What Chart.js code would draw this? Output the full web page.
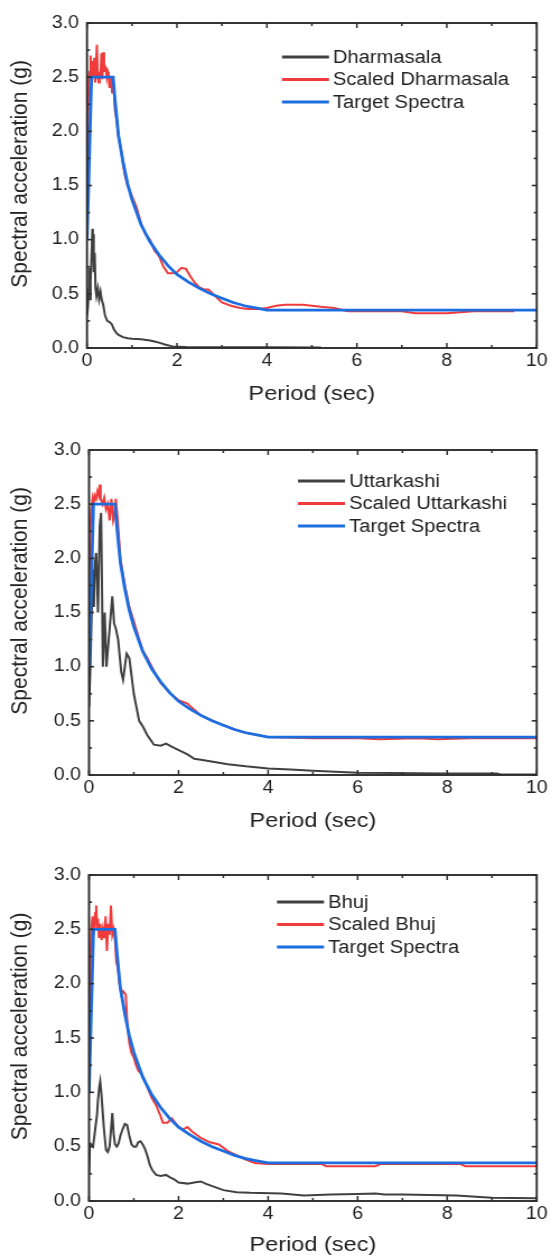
<!DOCTYPE html>
<html><head><meta charset="utf-8">
<script src="https://cdn.jsdelivr.net/npm/chart.js@4.4.1/dist/chart.umd.min.js"></script>
<style>
html,body{margin:0;padding:0;background:#fff;width:551px;height:1258px;overflow:hidden;position:relative;}
canvas{position:absolute;left:0;display:block;width:551px;}
</style></head><body>
<canvas id="c1" width="492" height="420" style="top:0px;width:551px;height:420px"></canvas>
<canvas id="c2" width="492" height="420" style="top:420px;width:551px;height:420px"></canvas>
<canvas id="c3" width="492" height="418" style="top:840px;width:551px;height:418px"></canvas>
<script>
// ---------- DATA (period in sec, spectral acceleration in g) ----------
const yTickValues = [0, 0.5, 1.0, 1.5, 2.0, 2.5, 3.0];
const xTickValues = [0, 2, 4, 6, 8, 10];

const targetSpectra = [[0,1.0],[0.1,2.5],[0.58,2.5],[0.62,2.3],[0.7,1.96],[0.8,1.72],[0.9,1.52],[1.0,1.37],[1.2,1.14],[1.4,0.98],[1.6,0.86],[1.8,0.76],[2.0,0.68],[2.25,0.61],[2.5,0.55],[2.75,0.5],[3.0,0.46],[3.25,0.42],[3.5,0.39],[3.75,0.37],[4.0,0.35],[10,0.35]];

const dharmasala = [[0,0.30],[0.02,0.38],[0.04,0.55],[0.05,0.74],[0.06,0.45],[0.08,0.62],[0.1,0.85],[0.12,1.10],[0.13,0.95],[0.14,1.05],[0.15,0.70],[0.17,0.88],[0.19,0.55],[0.21,0.48],[0.24,0.55],[0.27,0.45],[0.3,0.52],[0.33,0.44],[0.36,0.40],[0.4,0.30],[0.45,0.25],[0.5,0.24],[0.55,0.22],[0.6,0.17],[0.65,0.14],[0.7,0.12],[0.8,0.10],[0.9,0.09],[1.0,0.085],[1.2,0.08],[1.4,0.07],[1.5,0.06],[1.6,0.05],[1.75,0.03],[1.9,0.015],[2.2,0.01],[3.0,0.008],[4.0,0.006],[5.2,0.005]];
const scaledDharmasala = [[0,1.0],[0.02,2.05],[0.04,2.5],[0.06,2.55],[0.08,2.7],[0.1,2.45],[0.12,2.65],[0.14,2.5],[0.16,2.68],[0.18,2.45],[0.2,2.6],[0.22,2.8],[0.24,2.5],[0.26,2.45],[0.28,2.55],[0.3,2.5],[0.32,2.72],[0.34,2.48],[0.36,2.73],[0.38,2.55],[0.4,2.6],[0.42,2.58],[0.44,2.5],[0.46,2.55],[0.48,2.52],[0.5,2.4],[0.53,2.5],[0.56,2.35],[0.59,2.45],[0.62,2.2],[0.66,2.1],[0.7,1.95],[0.75,1.85],[0.8,1.7],[0.85,1.58],[0.9,1.5],[1.0,1.40],[1.1,1.30],[1.2,1.15],[1.3,1.05],[1.4,1.0],[1.5,0.9],[1.6,0.85],[1.7,0.75],[1.8,0.69],[1.9,0.69],[2.0,0.70],[2.1,0.74],[2.2,0.73],[2.3,0.66],[2.4,0.60],[2.5,0.56],[2.6,0.54],[2.7,0.54],[2.8,0.50],[3.0,0.42],[3.2,0.39],[3.4,0.37],[3.6,0.36],[3.8,0.36],[4.0,0.37],[4.2,0.39],[4.4,0.40],[4.8,0.40],[5.0,0.39],[5.2,0.38],[5.5,0.37],[5.8,0.34],[6.5,0.34],[7.0,0.34],[7.3,0.32],[8.0,0.32],[8.3,0.33],[8.6,0.34],[9.0,0.34],[9.5,0.34]];

const uttarkashi = [[0,0.63],[0.03,1.0],[0.06,1.5],[0.09,1.9],[0.11,1.55],[0.13,1.95],[0.16,2.05],[0.2,1.5],[0.24,2.3],[0.27,2.42],[0.31,1.0],[0.35,1.5],[0.39,1.0],[0.43,1.2],[0.47,1.4],[0.52,1.65],[0.56,1.4],[0.6,1.35],[0.65,1.25],[0.72,0.95],[0.76,0.88],[0.84,1.12],[0.9,1.08],[1.0,0.75],[1.12,0.5],[1.2,0.45],[1.3,0.37],[1.45,0.28],[1.6,0.27],[1.72,0.29],[1.9,0.25],[2.05,0.22],[2.2,0.19],[2.35,0.15],[2.5,0.14],[2.8,0.12],[3.1,0.10],[3.5,0.08],[4.0,0.06],[4.5,0.05],[5.0,0.04],[5.5,0.03],[6.0,0.02],[8.0,0.015],[9.1,0.015],[9.2,0.005],[10,0.005]];
const scaledUttarkashi = [[0,1.5],[0.02,2.15],[0.05,2.45],[0.08,2.55],[0.1,2.5],[0.13,2.58],[0.16,2.55],[0.19,2.62],[0.22,2.58],[0.24,2.68],[0.26,2.55],[0.3,2.5],[0.34,2.56],[0.38,2.45],[0.42,2.5],[0.46,2.35],[0.5,2.55],[0.54,2.35],[0.57,2.4],[0.6,2.55],[0.65,2.3],[0.7,2.0],[0.8,1.75],[0.9,1.55],[1.0,1.42],[1.1,1.28],[1.2,1.15],[1.3,1.08],[1.4,1.0],[1.5,0.92],[1.6,0.85],[1.8,0.76],[2.0,0.69],[2.2,0.66],[2.3,0.62],[2.5,0.55],[2.75,0.50],[3.0,0.46],[3.25,0.42],[3.5,0.39],[3.75,0.37],[4.0,0.35],[5.0,0.34],[6.0,0.34],[6.5,0.33],[7.3,0.34],[7.8,0.33],[8.5,0.34],[9.5,0.34],[10,0.34]];

const bhuj = [[0,0.26],[0.02,0.53],[0.05,0.52],[0.09,0.50],[0.12,0.60],[0.15,0.70],[0.18,0.80],[0.2,0.93],[0.23,1.05],[0.25,1.10],[0.27,1.02],[0.3,0.85],[0.33,0.68],[0.36,0.55],[0.38,0.47],[0.42,0.45],[0.46,0.50],[0.49,0.65],[0.52,0.81],[0.55,0.62],[0.58,0.52],[0.62,0.50],[0.66,0.53],[0.7,0.60],[0.75,0.66],[0.8,0.71],[0.85,0.70],[0.9,0.60],[0.95,0.52],[1.0,0.50],[1.05,0.50],[1.1,0.54],[1.15,0.55],[1.2,0.52],[1.25,0.48],[1.3,0.42],[1.36,0.33],[1.42,0.28],[1.5,0.24],[1.6,0.23],[1.72,0.24],[1.8,0.22],[1.9,0.20],[2.0,0.17],[2.2,0.16],[2.35,0.17],[2.5,0.18],[2.6,0.16],[2.8,0.13],[3.0,0.10],[3.3,0.08],[3.6,0.075],[4.3,0.07],[4.8,0.05],[5.4,0.06],[6.0,0.065],[6.4,0.07],[6.6,0.06],[7.0,0.06],[8.2,0.05],[9.0,0.03],[10,0.025]];
const scaledBhuj = [[0,1.48],[0.02,2.05],[0.05,2.5],[0.08,2.62],[0.11,2.45],[0.14,2.65],[0.16,2.72],[0.18,2.5],[0.2,2.6],[0.22,2.42],[0.25,2.55],[0.28,2.4],[0.31,2.5],[0.34,2.42],[0.37,2.62],[0.4,2.3],[0.43,2.55],[0.46,2.45],[0.49,2.72],[0.52,2.45],[0.55,2.5],[0.58,2.4],[0.61,2.2],[0.64,2.15],[0.68,2.0],[0.72,1.9],[0.76,1.93],[0.82,1.9],[0.86,1.6],[0.9,1.45],[0.95,1.36],[1.0,1.32],[1.05,1.25],[1.1,1.2],[1.15,1.18],[1.2,1.15],[1.25,1.1],[1.3,1.05],[1.4,0.95],[1.5,0.88],[1.6,0.78],[1.65,0.72],[1.75,0.72],[1.85,0.76],[2.0,0.68],[2.1,0.66],[2.2,0.68],[2.3,0.64],[2.5,0.58],[2.7,0.54],[2.9,0.52],[3.1,0.46],[3.3,0.42],[3.5,0.38],[3.7,0.35],[4.0,0.34],[5.2,0.34],[5.3,0.32],[6.4,0.32],[6.5,0.34],[8.3,0.34],[8.4,0.32],[10,0.32]];

// ---------- STYLE ----------
const FONT = "'Liberation Sans', Arial, sans-serif";
const TEXT = '#222222';
const COL_REC = '#404040', COL_SCALED = '#ef3b3b', COL_TARGET = '#1c6ee0';
const SX = 551 / 492; // canvas is drawn 492 wide and shown 551 wide
Chart.defaults.font.family = FONT;
Chart.defaults.color = TEXT;

const toXY = arr => arr.map(p => ({x: p[0], y: p[1]}));

const frameTicks = {
  id: 'frameTicks',
  afterDatasetsDraw(chart, args, o) {
    const {ctx, chartArea: a, scales: {x, y}} = chart;
    ctx.save();
    ctx.strokeStyle = '#2d2d2d';
    ctx.lineWidth = 1.5;
    const seg = (x0, y0, x1, y1) => { ctx.beginPath(); ctx.moveTo(x0, y0); ctx.lineTo(x1, y1); ctx.stroke(); };
    for (let i = 0; i <= Math.round((x.max - x.min) / o.xMinor); i++) {
      const v = x.min + i * o.xMinor;
      const px = x.getPixelForValue(v);
      const isMajor = xTickValues.some(t => Math.abs(t - v) < 1e-6);
      const len = isMajor ? o.major : o.minor;
      seg(px, a.bottom, px, a.bottom - len);
      seg(px, a.top, px, a.top + len);
    }
    ctx.lineWidth = 1.6;
    for (let i = 0; i <= Math.round((y.max - y.min) / o.yMinor); i++) {
      const v = y.min + i * o.yMinor;
      const py = y.getPixelForValue(v);
      const isMajor = yTickValues.some(t => Math.abs(t - v) < 1e-6);
      const len = (isMajor ? o.major : o.minor) / SX;
      seg(a.left, py, a.left + len, py);
      seg(a.right, py, a.right - len, py);
    }
    ctx.lineWidth = 1.9;
    ctx.strokeRect(a.left, a.top, a.right - a.left, a.bottom - a.top);
    ctx.restore();
  }
};

const insideLegend = {
  id: 'insideLegend',
  afterDraw(chart, args, o) {
    const {ctx, chartArea: a} = chart;
    ctx.save();
    ctx.font = o.font;
    ctx.textBaseline = 'middle';
    ctx.textAlign = 'left';
    chart.data.datasets.forEach((ds, i) => {
      const yy = a.top + o.top + i * o.rowHeight;
      const x0 = a.left + o.left;
      ctx.strokeStyle = ds.borderColor;
      ctx.lineWidth = o.lineWidth;
      ctx.beginPath(); ctx.moveTo(x0, yy); ctx.lineTo(x0 + o.lineLength, yy); ctx.stroke();
      ctx.fillStyle = TEXT;
      ctx.fillText(ds.label, x0 + o.lineLength + o.gap, yy + 1);
    });
    ctx.restore();
  }
};

function makeChart(id, name, record, scaled, L) {
  return new Chart(document.getElementById(id), {
    type: 'line',
    data: {
      datasets: [
        {label: name, data: toXY(record), borderColor: COL_REC, borderWidth: 2, order: 1},
        {label: 'Scaled ' + name, data: toXY(scaled), borderColor: COL_SCALED, borderWidth: 2, order: 2},
        {label: 'Target Spectra', data: toXY(targetSpectra), borderColor: COL_TARGET, borderWidth: 2.8, order: 0}
      ]
    },
    options: {
      responsive: false,
      animation: false,
      devicePixelRatio: 1,
      parsing: false,
      elements: {point: {radius: 0}, line: {tension: 0, borderJoinStyle: 'miter'}},
      layout: {padding: {top: L.top, right: L.right / SX, left: 0, bottom: 0}},
      plugins: {
        legend: {display: false},
        tooltip: {enabled: false},
        frameTicks: {xMinor: 1, yMinor: 0.25, major: 5, minor: 3},
        insideLegend: {left: L.legLeft / SX, top: L.legTop, rowHeight: 22.5, lineLength: 47 / SX, gap: 4 / SX, lineWidth: 3, font: "18px " + FONT}
      },
      scales: {
        x: {
          type: 'linear', min: 0, max: 10,
          afterFit: s => { s.height = L.xAxisH; },
          afterBuildTicks: s => { s.ticks = xTickValues.map(v => ({value: v})); },
          grid: {display: false, drawTicks: false},
          border: {display: false},
          ticks: {padding: 3, color: TEXT, font: {size: 17.5}, maxRotation: 0, callback: v => String(v)},
          title: {display: true, text: 'Period (sec)', color: TEXT, font: {size: 21}, padding: {top: 0, bottom: L.xTitlePad}}
        },
        y: {
          type: 'linear', min: 0, max: 3,
          afterFit: s => { s.width = L.yAxisW / SX; },
          afterBuildTicks: s => { s.ticks = yTickValues.map(v => ({value: v})); },
          grid: {display: false, drawTicks: false},
          border: {display: false},
          ticks: {padding: 8 / SX, color: TEXT, font: {size: 17.5}, callback: v => Number(v).toFixed(1)},
          title: {display: true, text: '    Spectral acceleration (g)', color: TEXT, font: {size: 21}, padding: {top: 5.5, bottom: 0}}
        }
      }
    },
    plugins: [frameTicks, insideLegend]
  });
}

makeChart('c1', 'Dharmasala', dharmasala, scaledDharmasala,
  {top: 23, right: 13.7, yAxisW: 87, xAxisH: 72, xTitlePad: 13, legLeft: 195, legTop: 34});
makeChart('c2', 'Uttarkashi', uttarkashi, scaledUttarkashi,
  {top: 30, right: 11.7, yAxisW: 89, xAxisH: 65, xTitlePad: 6, legLeft: 209, legTop: 31});
makeChart('c3', 'Bhuj', bhuj, scaledBhuj,
  {top: 35, right: 11.7, yAxisW: 89, xAxisH: 57, xTitlePad: 0, legLeft: 188, legTop: 27});
</script>
</body></html>
